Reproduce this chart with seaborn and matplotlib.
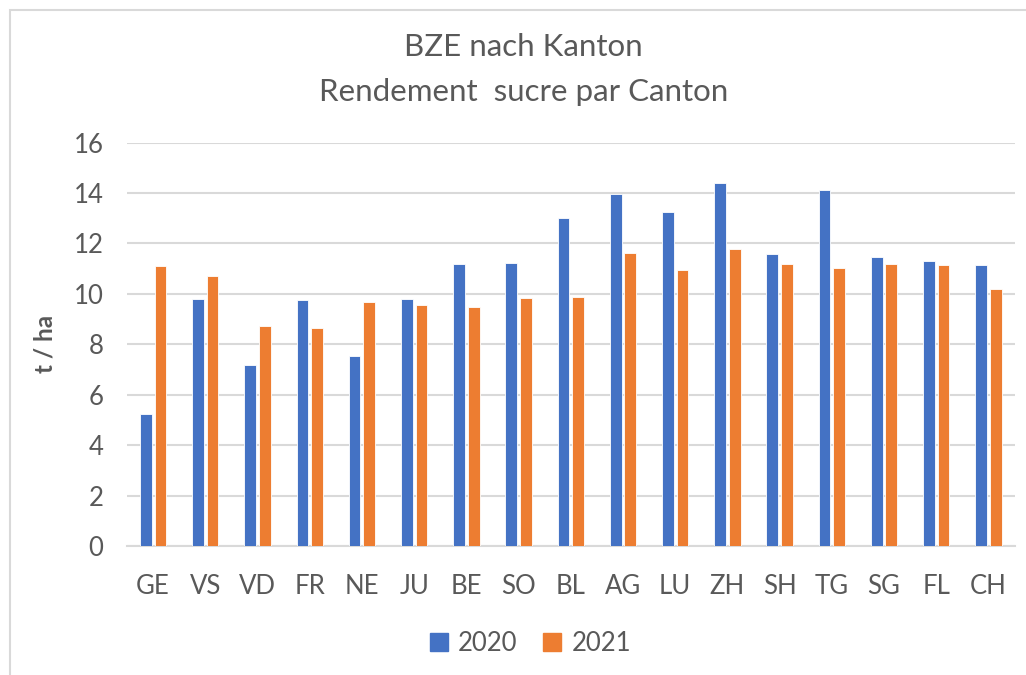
import pandas as pd
import seaborn as sns
import matplotlib.pyplot as plt
from matplotlib.patches import Rectangle

# values (t / ha)
cantons = ['GE', 'VS', 'VD', 'FR', 'NE', 'JU', 'BE', 'SO', 'BL',
           'AG', 'LU', 'ZH', 'SH', 'TG', 'SG', 'FL', 'CH']
yield_2020 = [5.25, 9.80, 7.17, 9.76, 7.54, 9.80, 11.19, 11.23, 13.03,
              13.95, 13.24, 14.38, 11.57, 14.11, 11.48, 11.31, 11.15]
yield_2021 = [11.10, 10.73, 8.72, 8.66, 9.68, 9.55, 9.47, 9.85, 9.89,
              11.64, 10.94, 11.79, 11.19, 11.03, 11.19, 11.15, 10.19]
years = ['2020', '2021']
y_ticks = [0, 2, 4, 6, 8, 10, 12, 14, 16]

text_col = '#595959'
grid_col = '#D9D9D9'
palette = {'2020': '#4472C4', '2021': '#ED7D31'}

df = pd.DataFrame({
    'canton': cantons * 2,
    'year': [years[0]] * len(cantons) + [years[1]] * len(cantons),
    'value': yield_2020 + yield_2021,
})

sns.set_theme(style='white')
plt.rcParams['font.family'] = ['Lato', 'DejaVu Sans']

fig = plt.figure(figsize=(10.26, 6.75), dpi=100)
ax = fig.add_axes([0.1238, 0.191, 0.865, 0.5977])

sns.barplot(data=df, x='canton', y='value', hue='year', palette=palette,
            width=0.56, gap=0.2, saturation=1, edgecolor='white',
            linewidth=0.6, ax=ax, legend=False, zorder=3)

ax.set_ylim(0, 16)
ax.set_xlim(-0.5, len(cantons) - 0.5)
ax.set_yticks(y_ticks)
ax.yaxis.grid(True, color=grid_col, linewidth=1.5, zorder=0)
ax.set_axisbelow(True)
for side in ['top', 'right', 'left']:
    ax.spines[side].set_visible(False)
ax.spines['bottom'].set_color(grid_col)
ax.spines['bottom'].set_linewidth(1.5)
ax.tick_params(axis='both', length=0, labelsize=18.5, colors=text_col)
ax.tick_params(axis='x', pad=20)
ax.tick_params(axis='y', pad=17)

ax.set_xlabel('')
ax.set_ylabel('t / ha', fontsize=17.5, fontweight='bold', color=text_col)
ax.yaxis.set_label_coords(-0.079, 0.5)

fig.text(0.51, 0.93, 'BZE nach Kanton', ha='center', va='center',
         fontsize=22.5, color=text_col)
fig.text(0.51, 0.863, 'Rendement  sucre par Canton', ha='center', va='center',
         fontsize=22.5, color=text_col)

handles = [Rectangle((0, 0), 1, 1, color=palette[y]) for y in years]
fig.legend(handles, years, loc='center', bbox_to_anchor=(0.517, 0.047),
           ncol=2, frameon=False, fontsize=18.5, handlelength=0.7,
           handleheight=0.7, handletextpad=0.4, columnspacing=1.0,
           labelcolor=text_col)

# chart area border
fig.patches.append(Rectangle((10 / 1026, -0.01), 1.2, 1 - 10 / 675 + 0.01,
                             transform=fig.transFigure, fill=False,
                             edgecolor=grid_col, linewidth=1.5))

fig.savefig('out.png', dpi=100)
